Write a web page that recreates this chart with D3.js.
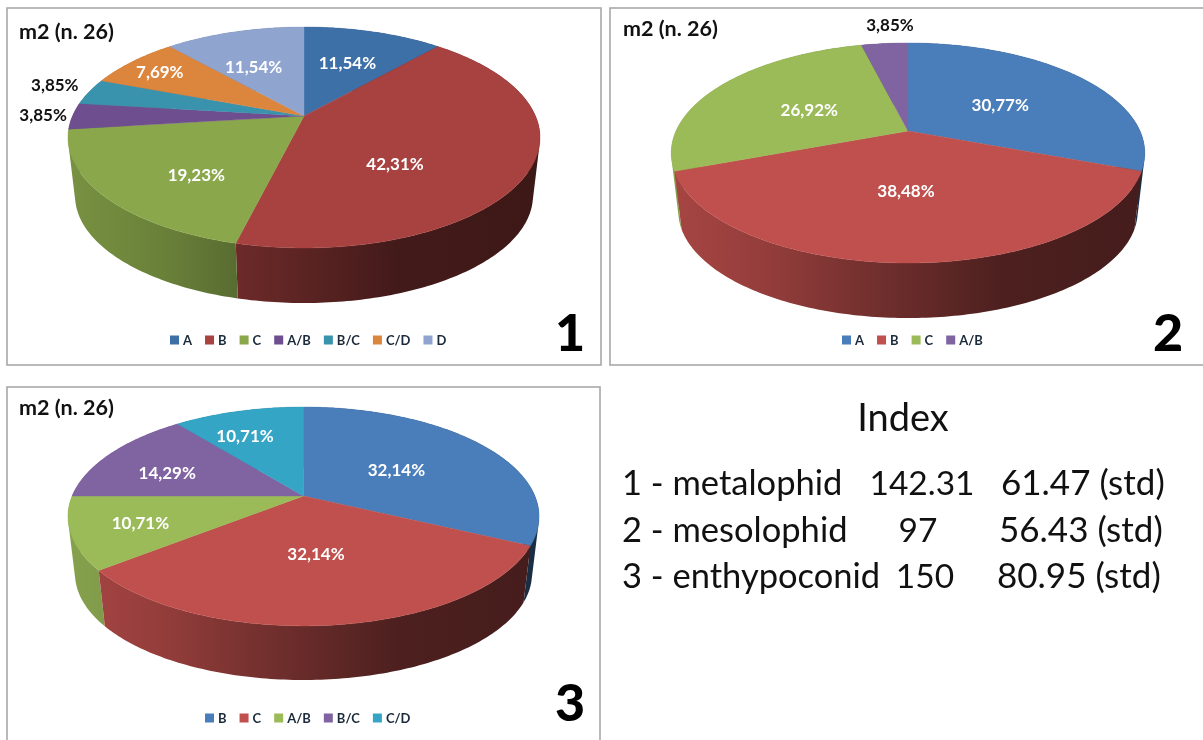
<!DOCTYPE html>
<html><head><meta charset="utf-8">
<script src="https://cdn.jsdelivr.net/npm/d3@7"></script>
<style>
html,body{margin:0;padding:0;background:#fff;overflow:hidden}
svg{display:block;filter:blur(0.45px)}
text{font-family:Lato,"Open Sans",sans-serif}
</style></head><body>
<svg id="c" width="1203" height="740"></svg>
<script>
// ---- data ----
const categories1 = ["A","B","C","A/B","B/C","C/D","D"];
const values1 = [11.54,42.31,19.23,3.85,3.85,7.69,11.54];
const colors1 = ["#3e70a8","#a84240","#8aa84b","#6f4e8f","#3a93ad","#dc853c","#8fa5d0"];
const categories2 = ["A","B","C","A/B"];
const values2 = [30.77,38.48,26.92,3.85];
const colors2 = ["#4a7ebb","#c0504d","#9bbb59","#8064a2"];
const categories3 = ["B","C","A/B","B/C","C/D"];
const values3 = [32.14,32.14,10.71,14.29,10.71];
const colors3 = ["#4a7ebb","#c0504d","#9bbb59","#8064a2","#35a5c6"];
const chartTitle = "m2 (n. 26)";
const indexTitle = "Index";
const indexNames = ["1 - metalophid","2 - mesolophid","3 - enthypoconid"];
const indexMeans = ["142.31","97","150"];
const indexStds = ["61.47 (std)","56.43 (std)","80.95 (std)"];

// ---- layout ----
const layouts = [
 {cats:categories1, vals:values1, cols:colors1, num:"1",
  frame:[7,8,594,357], title:[19,39], numPos:[570,351], legend:[170,340],
  cx:304, cy:116, A:231.5, B:106.3, k:0.1946, dy:59,
  outside:[false,false,false,true,true,false,false],
  off:[[-1,1],[-39,17],[5,13],[-122,-1],[-118,-16],[-37,-10],[-6,5]]},
 {cats:categories2, vals:values2, cols:colors2, num:"2",
  frame:[610,8,600,357], title:[623,36], numPos:[1168,351], legend:[842,340],
  cx:908, cy:131, A:232, B:105.6, k:0.2, dy:59,
  outside:[false,false,false,true],
  off:[[-15,8],[-2,-12],[18,7],[-3,-50]]},
 {cats:categories3, vals:values3, cols:colors3, num:"3",
  frame:[7,387,593,370], title:[19,415], numPos:[570,721], legend:[205,718],
  cx:303.5, cy:496, A:231.4, B:105.6, k:0.187, dy:58,
  outside:[false,false,false,false,false],
  off:[[-18,6],[-5,-13],[-27,5],[-17,3],[-17,-6]]}
];
const bottomScale = 0.97;
const svg = d3.select("#c");
const defs = svg.append("defs");
const locale = d3.formatLocale({decimal:",",thousands:".",grouping:[3],currency:["",""]});
const pct = v => locale.format(".2f")(v)+"%";
const line = d3.line();
const shade = d3.scaleLinear().domain([0,0.18,0.36,0.7,1]).range([0.86,0.78,0.64,0.40,0.36]);

layouts.forEach((L,ci)=>{
  const g = svg.append("g");
  g.append("rect").attr("x",L.frame[0]).attr("y",L.frame[1]).attr("width",L.frame[2]).attr("height",L.frame[3])
    .attr("fill","#fff").attr("stroke","#a8a8a8").attr("stroke-width",1.6);

  const top = (t,r=1)=>{const u=r*Math.sin(t),v=-r*Math.cos(t),w=1-L.k*v;
    return [L.cx+L.A*u/w, L.cy+L.B*v/w];};
  const bot = t=>{const u=Math.sin(t),v=-Math.cos(t),w=1-L.k*v;
    return [L.cx+L.A*bottomScale*u/w, L.cy+L.dy+L.B*bottomScale*v/w];};

  const arcs = d3.pie().sort(null).value(d=>d)(L.vals);
  const samples = a=>d3.range(0,1.0001,1/Math.max(2,Math.ceil((a.endAngle-a.startAngle)*60)))
      .map(f=>a.startAngle+f*(a.endAngle-a.startAngle));

  // gradients
  arcs.forEach((a,i)=>{
    const id=`w${ci}_${i}`;
    const grad=defs.append("linearGradient").attr("id",id).attr("gradientUnits","userSpaceOnUse")
      .attr("x1",L.cx-L.A).attr("x2",L.cx+L.A).attr("y1",0).attr("y2",0);
    const base=d3.rgb(L.cols[i]);
    d3.range(0,1.001,0.1).forEach(f=>{
      const s=shade(f);
      grad.append("stop").attr("offset",f)
        .attr("stop-color",d3.rgb(base.r*s,base.g*s,base.b*s).formatHex());
    });
  });

  // side walls, far to near; each wall is the sweep of small quads with one winding
  const order=d3.range(arcs.length).sort((a,b)=>{
    const m=i=>-Math.cos((arcs[i].startAngle+arcs[i].endAngle)/2);
    return m(a)-m(b);});
  g.append("g").selectAll("path").data(order).join("path")
    .attr("d",i=>{
      const ts=samples(arcs[i]);
      return d3.pairs(ts).map(([t0,t1])=>{
        const q=[top(t0),top(t1),bot(t1),bot(t0)];
        if(d3.polygonArea(q)<0) q.reverse();
        return line(q)+"Z";
      }).join("");
    })
    .attr("fill",i=>`url(#w${ci}_${i})`);

  // top face
  g.append("g").selectAll("path").data(arcs).join("path")
    .attr("d",a=>line([[L.cx,L.cy]].concat(samples(a).map(t=>top(t))))+"Z")
    .attr("fill",(a,i)=>L.cols[i]).attr("stroke",(a,i)=>L.cols[i]).attr("stroke-width",0.4);

  // value labels
  g.append("g").selectAll("text").data(arcs).join("text")
    .attr("x",(a,i)=>top((a.startAngle+a.endAngle)/2,0.6)[0]+L.off[i][0])
    .attr("y",(a,i)=>top((a.startAngle+a.endAngle)/2,0.6)[1]+L.off[i][1])
    .attr("dy","0.35em").attr("text-anchor","middle")
    .attr("font-size",17).attr("font-weight",700)
    .attr("fill",(a,i)=>L.outside[i]?"#111":"#fff")
    .text(a=>pct(a.value));

  // title and panel number
  g.append("text").attr("x",L.title[0]).attr("y",L.title[1]).attr("font-size",21.5).attr("font-weight",700).attr("fill","#111").text(chartTitle);
  g.append("text").attr("x",L.numPos[0]).attr("y",L.numPos[1]).attr("text-anchor","middle").attr("font-size",52).attr("font-weight",900).attr("fill","#000").text(L.num);

  // legend
  let x=L.legend[0];
  L.cats.forEach((c,i)=>{
    g.append("rect").attr("x",x).attr("y",L.legend[1]-4.5).attr("width",9).attr("height",9).attr("fill",L.cols[i]);
    const t=g.append("text").attr("x",x+13).attr("y",L.legend[1]).attr("dy","0.35em")
      .attr("font-size",13).attr("font-weight",700).attr("fill","#1a2a3a").text(c);
    x+=13+t.node().getComputedTextLength()+13;
  });
});

// index block
const ig=svg.append("g").attr("fill","#111");
ig.append("text").attr("x",903).attr("y",431).attr("text-anchor","middle").attr("font-size",38).text(indexTitle);
const rowY=d3.scalePoint().domain(indexNames).range([495,588]);
const meanX=[922,918,925], stdX=[1001,999,997];
indexNames.forEach((n,i)=>{
  ig.append("text").attr("x",622).attr("y",rowY(n)).attr("font-size",34.5).text(n);
  ig.append("text").attr("x",meanX[i]).attr("y",rowY(n)).attr("text-anchor","middle").attr("font-size",33.5).text(indexMeans[i]);
  ig.append("text").attr("x",stdX[i]).attr("y",rowY(n)).attr("font-size",35).text(indexStds[i]);
});
</script>
</body></html>
